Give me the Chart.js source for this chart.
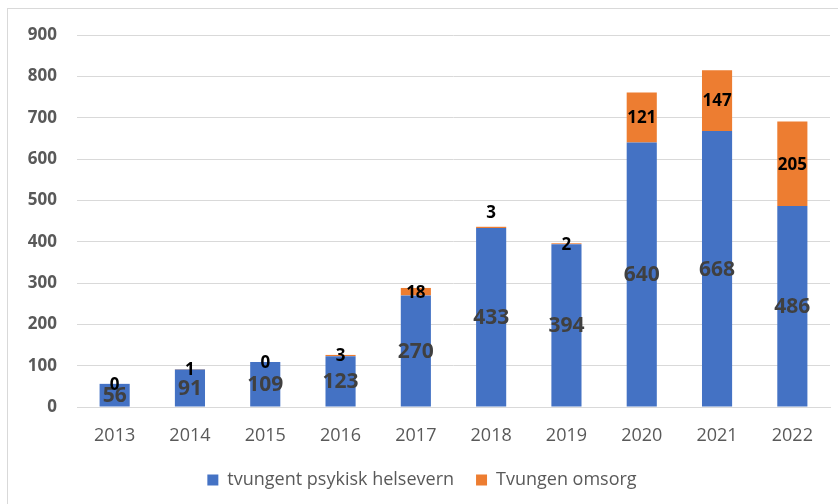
<!DOCTYPE html>
<html>
<head>
<meta charset="utf-8">
<script src="https://cdn.jsdelivr.net/npm/chart.js@4"></script>
<style>
  html, body { margin: 0; padding: 0; background: #fff; overflow: hidden; }
  #wrap { position: absolute; left: 7px; top: 8px; width: 840px; height: 500px; border: 1px solid #d9d9d9; }
  #chart { position: absolute; left: 0; top: 0; }
</style>
</head>
<body>
<div id="wrap"></div>
<canvas id="chart" width="838" height="504"></canvas>
<script>
const years = ['2013', '2014', '2015', '2016', '2017', '2018', '2019', '2020', '2021', '2022'];
const helsevern = [56, 91, 109, 123, 270, 433, 394, 640, 668, 486];
const omsorg = [0, 1, 0, 3, 18, 3, 2, 121, 147, 205];

const fontFamily = "'Open Sans', 'Liberation Sans', sans-serif";

// labels centred in each segment, like the Excel original
const segmentLabels = {
    id: 'segmentLabels',
    afterDatasetsDraw(chart) {
        const ctx = chart.ctx;
        ctx.save();
        ctx.textAlign = 'center';
        ctx.textBaseline = 'middle';
        chart.data.datasets.forEach((ds, di) => {
            const meta = chart.getDatasetMeta(di);
            meta.data.forEach((bar, i) => {
                let y = (bar.y + bar.base) / 2;
                if (di === 0) {
                    ctx.font = "bold 21px " + fontFamily;
                    ctx.fillStyle = '#404040';
                } else {
                    ctx.font = "bold 17px " + fontFamily;
                    ctx.fillStyle = '#000';
                    if (years[i] === '2018') y -= 15;
                }
                ctx.fillText(ds.data[i], bar.x, y + 1);
            });
        });
        ctx.restore();
    }
};

new Chart(document.getElementById('chart').getContext('2d'), {
    type: 'bar',
    data: {
        labels: years,
        datasets: [{
            label: 'tvungent psykisk helsevern',
            data: helsevern,
            backgroundColor: '#4472C4',
            categoryPercentage: 0.8,
            barPercentage: 0.5
        }, {
            label: 'Tvungen omsorg',
            data: omsorg,
            backgroundColor: '#ED7D31',
            categoryPercentage: 0.8,
            barPercentage: 0.5
        }]
    },
    options: {
        responsive: false,
        animation: false,
        layout: { padding: { top: 35, left: 14, right: 8, bottom: 5 } },
        plugins: {
            legend: {
                position: 'bottom',
                labels: {
                    color: '#595959',
                    font: { family: fontFamily, size: 18 },
                    boxWidth: 11,
                    boxHeight: 11,
                    padding: 22
                }
            },
            tooltip: { enabled: false }
        },
        scales: {
            x: {
                stacked: true,
                grid: { display: false },
                border: { color: '#d9d9d9' },
                afterFit: s => { s.height = 42; },
                ticks: {
                    color: '#595959',
                    font: { family: fontFamily, size: 18 },
                    padding: 10
                }
            },
            y: {
                stacked: true,
                min: 0,
                max: 900,
                grid: { color: '#d9d9d9', drawTicks: false },
                border: { display: false },
                afterFit: s => { s.width = 63; },
                ticks: {
                    stepSize: 100,
                    color: '#595959',
                    font: { family: fontFamily, size: 17, weight: 'bold' },
                    padding: 20
                }
            }
        }
    },
    plugins: [segmentLabels]
});
</script>
</body>
</html>
